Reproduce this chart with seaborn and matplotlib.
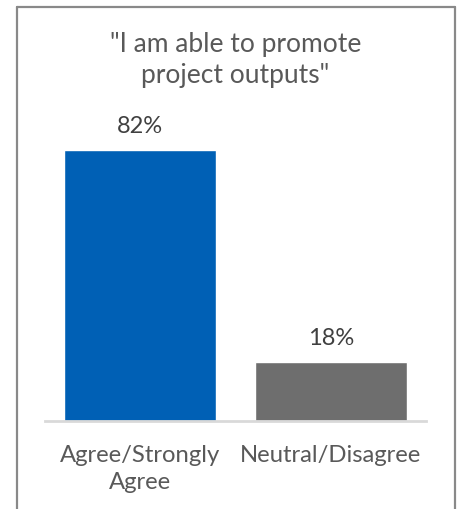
import matplotlib
matplotlib.use("Agg")
import matplotlib.pyplot as plt
import seaborn as sns
import pandas as pd
from matplotlib.lines import Line2D

categories = ["Agree/Strongly\nAgree", "Neutral/Disagree"]
values = [82, 18]
value_labels = ["82%", "18%"]
title = "\"I am able to promote\nproject outputs\""
colors = ["#0060B5", "#6E6E6E"]

sns.set_theme(style="white")
plt.rcParams["font.family"] = ["Lato", "DejaVu Sans"]

W, H = 457, 509
fig = plt.figure(figsize=(W / 100, H / 100), dpi=100)
fig.patch.set_facecolor("white")

# axes: x from 45 to 426 px, baseline at y=421 px
ax = fig.add_axes([45 / W, (H - 421) / H, (426 - 45) / W, 297.5 / H])
df = pd.DataFrame({"cat": categories, "val": values})
sns.barplot(data=df, x="cat", y="val", hue="cat", palette=colors,
            legend=False, width=0.8, saturation=1, ax=ax)
ax.set_xlim(-0.5, 1.5)
ax.set_ylim(0, 90)
ax.set_xlabel("")
ax.set_ylabel("")
ax.set_yticks([])
for s in ["top", "right", "left"]:
    ax.spines[s].set_visible(False)
ax.spines["bottom"].set_color("#D9D9D9")
ax.spines["bottom"].set_linewidth(2)
ax.tick_params(axis="x", length=0, pad=17, labelsize=17.2, labelcolor="#595959")
for lbl in ax.get_xticklabels():
    lbl.set_linespacing(1.35)

for i, (v, t) in enumerate(zip(values, value_labels)):
    ax.annotate(t, (i, v), xytext=(0, 9), textcoords="offset points",
                ha="center", va="bottom", fontsize=17, color="#404040")

fig.text(235.5 / W, 1 - 32 / H, title, ha="center", va="top",
         fontsize=19, color="#595959", linespacing=1.3)

# border box (left, top, right; bottom is cut off)
bc = "#898989"
lw = 1.6
x0, x1, y0 = 16.5 / W, 455 / W, 1 - 6.5 / H
fig.add_artist(Line2D([x0, x0], [0, y0], transform=fig.transFigure, color=bc, lw=lw))
fig.add_artist(Line2D([x0, x1], [y0, y0], transform=fig.transFigure, color=bc, lw=lw))
fig.add_artist(Line2D([x1, x1], [y0, 0], transform=fig.transFigure, color=bc, lw=lw))

fig.savefig("out.png", dpi=100)
